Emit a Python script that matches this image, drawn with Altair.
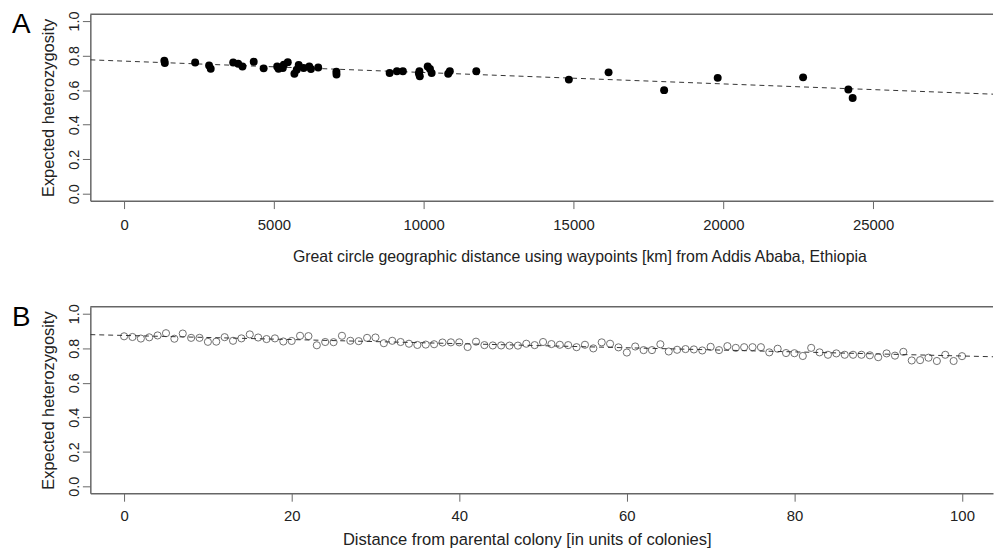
import altair as alt
import pandas as pd

# ---------------- data ----------------
# Panel A: distance from Addis Ababa (km) and expected heterozygosity
distA = [1344, 1360, 2373, 2837, 2892, 3642, 3808, 3951, 4327, 4658,
         5110, 5155, 5298, 5331, 5464, 5685, 5762, 5828, 5993, 6181,
         6236, 6479, 7086, 7090, 8863, 9106, 9305, 9840, 9857, 9870,
         10133, 10210, 10265, 10817, 10872, 11755, 14844, 16170, 18024, 19812,
         22662, 24172, 24316]
hetA = [0.770, 0.757, 0.760, 0.743, 0.724, 0.760, 0.753, 0.737, 0.764, 0.726,
        0.737, 0.724, 0.728, 0.747, 0.762, 0.695, 0.718, 0.745, 0.728, 0.737,
        0.722, 0.731, 0.707, 0.690, 0.699, 0.709, 0.709, 0.697, 0.709, 0.680,
        0.737, 0.722, 0.699, 0.695, 0.709, 0.709, 0.661, 0.703, 0.600, 0.671,
        0.674, 0.604, 0.554]
fitA_intercept = 0.768
fitA_slope = -6.6e-6

# Panel B: distance from parental colony (colonies) and expected heterozygosity
distB = list(range(0, 101))
hetB = [0.869, 0.865, 0.856, 0.863, 0.874, 0.887, 0.855, 0.885, 0.860, 0.860,
        0.837, 0.838, 0.864, 0.843, 0.857, 0.880, 0.862, 0.853, 0.857, 0.839,
        0.842, 0.872, 0.870, 0.817, 0.836, 0.835, 0.872, 0.843, 0.841, 0.860,
        0.862, 0.829, 0.843, 0.836, 0.826, 0.819, 0.821, 0.823, 0.833, 0.834,
        0.834, 0.807, 0.838, 0.818, 0.816, 0.816, 0.815, 0.815, 0.826, 0.818,
        0.836, 0.824, 0.820, 0.818, 0.806, 0.820, 0.799, 0.834, 0.826, 0.805,
        0.775, 0.810, 0.789, 0.789, 0.823, 0.781, 0.791, 0.795, 0.793, 0.787,
        0.808, 0.789, 0.812, 0.802, 0.806, 0.806, 0.806, 0.776, 0.797, 0.772,
        0.771, 0.755, 0.802, 0.776, 0.762, 0.770, 0.762, 0.762, 0.762, 0.759,
        0.748, 0.770, 0.757, 0.779, 0.729, 0.731, 0.745, 0.726, 0.762, 0.726,
        0.754]
fitB_intercept = 0.874
fitB_slope = -0.00119

xticksA = [0, 5000, 10000, 15000, 20000, 25000]
xticksB = [0, 20, 40, 60, 80, 100]
yticks = [0.0, 0.2, 0.4, 0.6, 0.8, 1.0]

# ---------------- layout / style ----------------
W, H = 910, 188
FONT = "Liberation Sans"
AXC = "#666666"
xdomA = [-1126, 29000]
xdomB = [-4.03, 103.7]
ydom = [-0.04, 1.04]


def panel(x, y, xdom, a, b, xticks, xtitle, title_x, title_size, label_pad,
          title_pad, letter, filled):
    pts = pd.DataFrame({"x": x, "y": y})
    fit = pd.DataFrame({"x": xdom, "y": [a + b * v for v in xdom]})
    one = pd.DataFrame({"t": [letter]})
    xaxis = alt.Axis(values=xticks, format="d", title=xtitle, grid=False,
                     tickSize=8, labelPadding=label_pad, titlePadding=title_pad,
                     titleX=title_x, titleAlign="center",
                     domainColor=AXC, tickColor=AXC, domainWidth=1.5,
                     labelFontSize=15, titleFontSize=title_size,
                     labelColor="#222", titleColor="#222",
                     labelOverlap=False, titleFontWeight="normal")
    yaxis = alt.Axis(values=yticks, format=".1f", title="Expected heterozygosity",
                     grid=False, tickSize=8, labelAngle=270, labelAlign="center",
                     labelBaseline="alphabetic", labelPadding=4, titlePadding=10,
                     domainColor=AXC, tickColor=AXC, domainWidth=1.5,
                     labelFontSize=14.5, titleFontSize=16.5,
                     labelColor="#222", titleColor="#222",
                     labelOverlap=False, titleFontWeight="normal")
    xs = alt.Scale(domain=xdom, nice=False, zero=False)
    ys = alt.Scale(domain=ydom, nice=False, zero=False)
    xenc = alt.X("x:Q", scale=xs, axis=xaxis)
    yenc = alt.Y("y:Q", scale=ys, axis=yaxis)
    line = alt.Chart(fit).mark_line(strokeDash=[5, 4], color="#333", strokeWidth=1,
                                    clip=True).encode(x=xenc, y=yenc)
    if filled:
        dots = alt.Chart(pts).mark_circle(size=64, color="black", opacity=1).encode(
            x=xenc, y=yenc)
    else:
        dots = alt.Chart(pts).mark_point(shape="circle", filled=False, size=52,
                                         color="#333", strokeWidth=1).encode(
            x=xenc, y=yenc)
    top = alt.Chart(one).mark_rule(color=AXC, strokeWidth=1.5).encode(
        x=alt.value(0), x2=alt.value(W), y=alt.value(0))
    lab = alt.Chart(one).mark_text(fontSize=28, font=FONT, align="left",
                                   fontWeight="normal", baseline="alphabetic",
                                   color="black").encode(
        text="t:N", x=alt.value(-79), y=alt.value(19.5))
    return alt.layer(line, dots, top, lab).properties(width=W, height=H)


pA = panel(distA, hetA, xdomA, fitA_intercept, fitA_slope, xticksA,
           "Great circle geographic distance using waypoints [km] from Addis Ababa, Ethiopia",
           493, 16, 9, 16, "A", True)
pB = panel(distB, hetB, xdomB, fitB_intercept, fitB_slope, xticksB,
           "Distance from parental colony [in units of colonies]",
           440, 16.7, 7, 9, "B", False)

chart = alt.vconcat(pA, pB, spacing=39).properties(
    padding={"left": 4, "top": 0, "right": 0, "bottom": 0}
).configure(font=FONT).configure_view(stroke=None).configure_axis(labelOverlap=False)

chart.save("out.html", embed_options={"renderer": "svg", "actions": False})
